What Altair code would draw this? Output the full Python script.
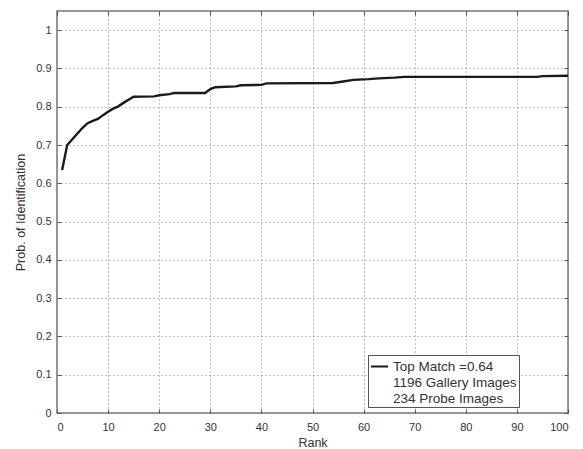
import altair as alt
import pandas as pd

# Values
ranks = [1, 2, 3, 4, 5, 6, 7, 8, 9, 10, 11, 12, 13, 14, 15, 19, 20, 22, 23, 29,
         30, 31, 35, 36, 40, 41, 54, 56, 58, 61, 63, 66, 68, 94, 95, 100]
probs = [0.635, 0.700, 0.715, 0.730, 0.745, 0.757, 0.763, 0.768, 0.778, 0.787,
         0.795, 0.801, 0.810, 0.818, 0.826, 0.827, 0.830, 0.833, 0.836, 0.836,
         0.846, 0.851, 0.853, 0.856, 0.857, 0.861, 0.862, 0.866, 0.870, 0.872,
         0.874, 0.876, 0.878, 0.878, 0.880, 0.881]
legend_lines = ["Top Match =0.64", "1196 Gallery Images", "234 Probe Images"]
x_ticks = [0, 10, 20, 30, 40, 50, 60, 70, 80, 90, 100]
y_ticks = [0, 0.1, 0.2, 0.3, 0.4, 0.5, 0.6, 0.7, 0.8, 0.9, 1]

df = pd.DataFrame({"rank": ranks, "prob": probs, "series": legend_lines[0]})

FONT = "Liberation Sans"
xs = alt.Scale(domain=[0, 100], nice=False, zero=False)
ys = alt.Scale(domain=[0, 1.05], nice=False, zero=False)

line = alt.Chart(df).mark_line(strokeWidth=2.4).encode(
    x=alt.X("rank:Q", scale=xs, axis=alt.Axis(
        orient="bottom", values=x_ticks, title="Rank", offset=-4, tickSize=4,
        domain=False, grid=True, gridDash=[1, 3], gridColor="#808080",
        labelPadding=8, titlePadding=4, format="d")),
    y=alt.Y("prob:Q", scale=ys, axis=alt.Axis(
        orient="left", values=y_ticks, title="Prob. of Identification", offset=-4,
        tickSize=4, domain=False, grid=True, gridDash=[1, 3], gridColor="#808080",
        labelPadding=6, titlePadding=8, format="~g")),
    color=alt.Color("series:N", scale=alt.Scale(
        domain=legend_lines, range=["#1a1a1a", "transparent", "transparent"]),
        legend=alt.Legend(
            orient="none", legendX=311, legendY=344, title=None,
            symbolType="stroke", symbolSize=289, symbolStrokeWidth=2,
            labelFont=FONT, labelFontSize=13.5, labelColor="#333",
            rowPadding=-2, padding=2, labelOffset=4,
            strokeColor="#555", fillColor="white")),
)

frame = alt.Chart(df).mark_line(opacity=0).encode(
    x=alt.X("rank:Q", scale=xs, axis=alt.Axis(
        orient="top", values=x_ticks, title=None, offset=-4, tickSize=4,
        domain=False, grid=False, labels=False)),
    y=alt.Y("prob:Q", scale=ys, axis=alt.Axis(
        orient="right", values=y_ticks, title=None, offset=-4, tickSize=4,
        domain=False, grid=False, labels=False)),
)

chart = alt.layer(frame, line).resolve_axis(
    x="independent", y="independent"
).properties(
    width=511, height=402,
    padding={"left": 49, "top": 3, "right": 7, "bottom": 36},
    autosize=alt.AutoSizeParams(type="none"),
    background="white",
).configure_view(
    stroke="#777", strokeWidth=1.5
).configure_axis(
    labelFont=FONT, labelFontSize=11, labelColor="#333",
    titleFont=FONT, titleFontSize=12.5, titleColor="#333", titleFontWeight="normal",
    tickColor="#555", tickWidth=1,
)

chart.save("out.html", embed_options={"renderer": "svg", "actions": False})
